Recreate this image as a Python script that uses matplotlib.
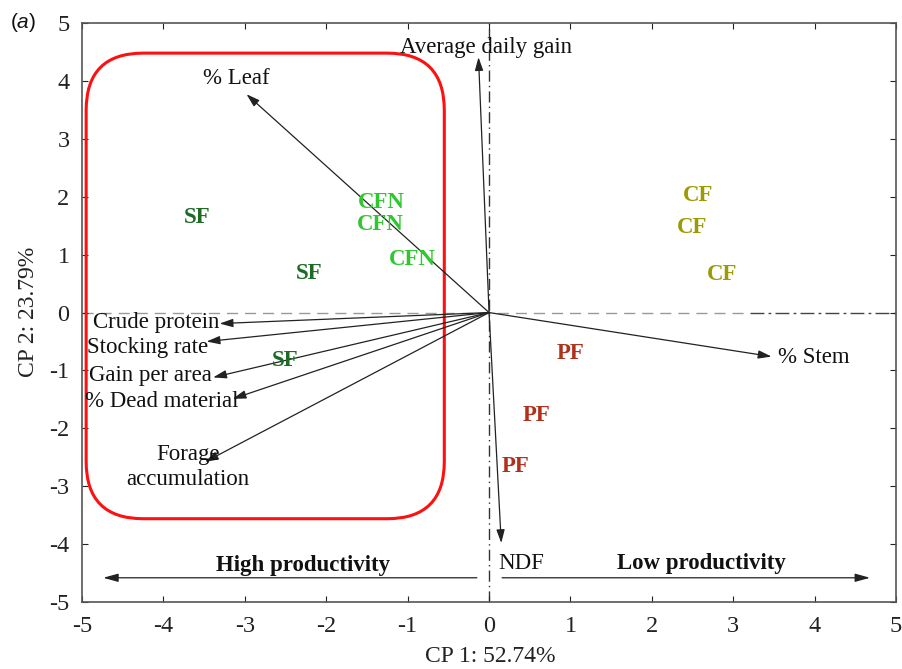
import matplotlib
matplotlib.use("Agg")
import matplotlib.pyplot as plt
from matplotlib.patches import FancyBboxPatch

plt.rcParams['font.family'] = ['Liberation Serif', 'DejaVu Serif']
plt.rcParams['mathtext.fontset'] = 'custom'
plt.rcParams['mathtext.it'] = 'Liberation Sans:italic'
plt.rcParams['mathtext.rm'] = 'Liberation Sans'
plt.rcParams['axes.unicode_minus'] = False

# Scores (treatments)
groups = ['SF', 'SF', 'SF', 'CFN', 'CFN', 'CFN', 'CF', 'CF', 'CF', 'PF', 'PF', 'PF']
score_x = [-3.59, -2.21, -2.51, -1.32, -1.34, -0.94, 2.57, 2.49, 2.86, 1.00, 0.58, 0.33]
score_y = [1.64, 0.67, -0.83, 1.90, 1.52, 0.92, 2.02, 1.47, 0.66, -0.71, -1.78, -2.65]
group_colors = {'SF': '#1d6b25', 'CFN': '#2ec82e', 'CF': '#9c9a05', 'PF': '#b0301a'}

# Loadings (variables)
variables = ['% Leaf', 'Average daily gain', '% Stem', 'NDF', 'Crude protein',
             'Stocking rate', 'Gain per area', '% Dead material', 'Forage\naccumulation']
load_x = [-2.98, -0.13, 3.47, 0.15, -3.31, -3.47, -3.39, -3.15, -3.49]
load_y = [3.77, 4.41, -0.76, -3.98, -0.19, -0.50, -1.12, -1.49, -2.58]
# label anchor positions / alignment
lab_x = [-3.1, -0.04, 3.55, 0.11, -3.31, -3.45, -3.40, -3.08, -3.70]
lab_y = [4.05, 4.58, -0.78, -4.34, -0.17, -0.60, -1.08, -1.54, -2.66]
lab_ha = ['center', 'center', 'left', 'left', 'right', 'right', 'right', 'right', 'center']

fig = plt.figure(figsize=(9.02, 6.69), dpi=100)
ax = fig.add_axes([0.091, 0.1, 0.9024, 0.8656])
ax.set_xlim(-5, 5)
ax.set_ylim(-5, 5)

# reference lines
ax.plot([-5, 3.2], [0, 0], color='#999999', lw=1.0, ls=(0, (8, 5)), zorder=1)
ax.plot([3.2, 5], [0, 0], color='#444444', lw=1.0, ls=(0, (10, 3, 2, 3)), zorder=1)
ax.axvline(0, color='#333333', lw=1.0, ls=(0, (8, 3, 1, 3)), zorder=1)

# red rounded box
box = FancyBboxPatch((-4.95, -3.56), 4.40, 8.04,
                     boxstyle='round,pad=0,rounding_size=0.7',
                     mutation_aspect=1.41, fill=False, ec='#ff1010', lw=2.2, zorder=2)
ax.add_patch(box)

# loading arrows
for vx, vy in zip(load_x, load_y):
    ax.annotate('', xy=(vx, vy), xytext=(0, 0),
                arrowprops=dict(arrowstyle='-|>,head_length=0.8,head_width=0.25',
                                color='#222222', lw=0.9, shrinkA=0, shrinkB=0), zorder=3)
for name, tx, ty, ha in zip(variables, lab_x, lab_y, lab_ha):
    ax.text(tx, ty, name, ha=ha, va='center', fontsize=16.5, color='#111111',
            linespacing=1.25, zorder=4)

# score labels
for g, sx, sy in zip(groups, score_x, score_y):
    ax.text(sx, sy, g, ha='center', va='center', fontsize=16.5, fontweight='bold',
            color=group_colors[g], zorder=4)

# productivity arrows
ax.annotate('', xy=(-4.74, -4.58), xytext=(-0.15, -4.58),
            arrowprops=dict(arrowstyle='-|>,head_length=0.9,head_width=0.25',
                            color='#222222', lw=0.9, shrinkA=0, shrinkB=0))
ax.annotate('', xy=(4.68, -4.58), xytext=(0.16, -4.58),
            arrowprops=dict(arrowstyle='-|>,head_length=0.9,head_width=0.25',
                            color='#222222', lw=0.9, shrinkA=0, shrinkB=0))
ax.text(-2.29, -4.36, 'High productivity', ha='center', va='center', fontsize=16.5,
        fontweight='bold', color='#111111')
ax.text(2.61, -4.34, 'Low productivity', ha='center', va='center', fontsize=16.5,
        fontweight='bold', color='#111111')

ax.set_xticks(range(-5, 6))
ax.set_yticks(range(-5, 6))
ax.tick_params(direction='in', top=True, right=True, length=4, width=0.8,
               labelsize=17.5, colors='#222222')
ax.tick_params(axis='x', pad=10)
ax.tick_params(axis='y', pad=9)
for s in ax.spines.values():
    s.set_color('#555555')
    s.set_linewidth(1.2)

fig.text(490 / 902, 1 - 657 / 669, 'CP 1: 52.74%', fontsize=17, ha='center', va='center',
         color='#222222')
fig.text(29 / 902, 1 - 312 / 669, 'CP 2: 23.79%', fontsize=17, ha='center', va='center',
         rotation=90, color='#222222')

fig.text(0.011, 1 - 23 / 669, r'($\mathit{a}$)', fontsize=15, ha='left', va='center',
         family='Liberation Sans', color='#111111')

fig.savefig('out.png', dpi=100)
